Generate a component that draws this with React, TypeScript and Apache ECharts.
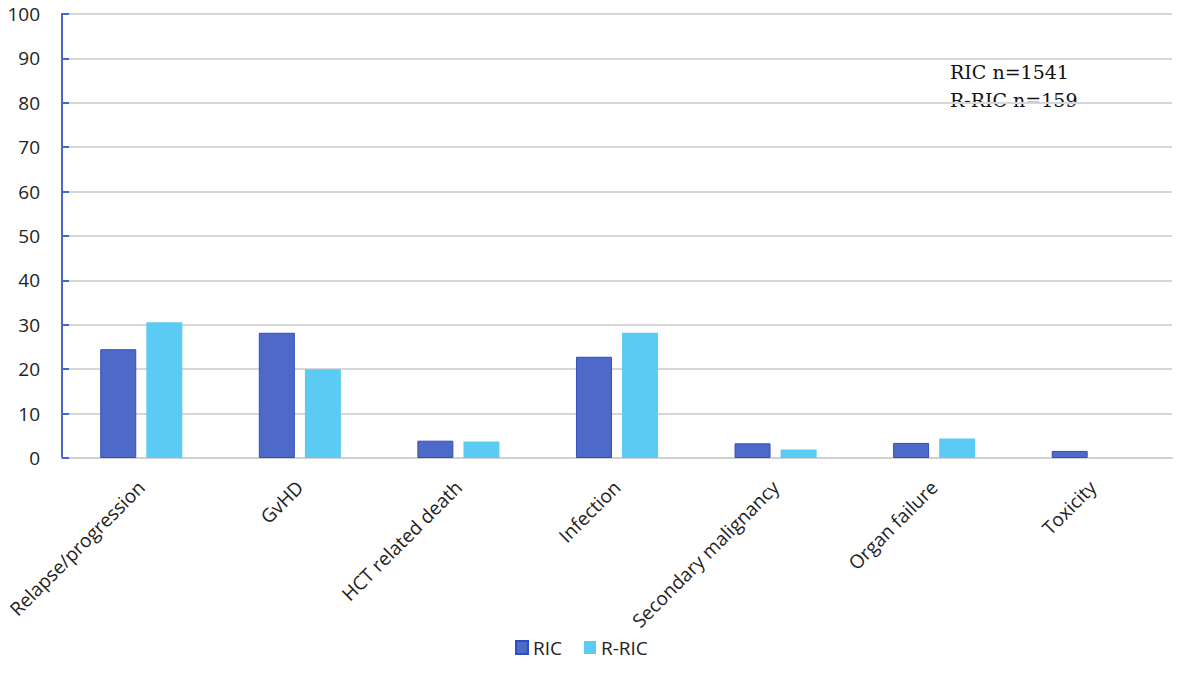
import React, { useEffect, useRef } from "react";
import * as echarts from "echarts";

const categories = [
  "Relapse/progression",
  "GvHD",
  "HCT related death",
  "Infection",
  "Secondary malignancy",
  "Organ failure",
  "Toxicity",
];
const ricValues = [24.5, 28.2, 3.9, 22.8, 3.3, 3.4, 1.6];
const rricValues = [30.6, 20.0, 3.7, 28.2, 1.9, 4.4, 0];
const seriesNames = ["RIC", "R-RIC"];
const noteLines = ["RIC n=1541", "R-RIC n=159"];

export default function App() {
  const ref = useRef<HTMLDivElement>(null);
  useEffect(() => {
    if (!ref.current) return;
    const chart = echarts.init(ref.current, null, { renderer: "svg" });
    const sans = "'Open Sans', 'Noto Sans', sans-serif";
    chart.setOption({
      animation: false,
      backgroundColor: "#ffffff",
      grid: { left: 62, right: 9, top: 14, bottom: 223, containLabel: false },
      legend: {
        data: seriesNames,
        top: 633,
        left: 510,
        itemWidth: 12,
        itemHeight: 13,
        itemGap: 22,
        icon: "rect",
        textStyle: { fontFamily: sans, fontSize: 19, color: "#222" },
      },
      xAxis: {
        type: "category",
        data: categories,
        axisLine: { show: true, lineStyle: { color: "#d0d0d0", width: 2 } },
        axisTick: { show: false },
        axisLabel: {
          rotate: 45,
          margin: 26,
          interval: 0,
          fontFamily: sans,
          fontSize: 19,
          color: "#222",
        },
      },
      yAxis: {
        type: "value",
        min: 0,
        max: 100,
        interval: 10,
        axisLine: { show: true, lineStyle: { color: "#4a66c8", width: 2 } },
        axisTick: { show: true, inside: true, length: 7, lineStyle: { color: "#4a66c8", width: 2 } },
        axisLabel: { fontFamily: sans, fontSize: 19, color: "#222", margin: 22 },
        splitLine: { show: true, lineStyle: { color: "#d6d6d6", width: 2 } },
      },
      series: [
        {
          name: seriesNames[0],
          type: "bar",
          data: ricValues,
          barWidth: 36,
          barGap: "28%",
          itemStyle: { color: "#4f69c9", borderColor: "#2f4fc0", borderWidth: 1 },
        },
        {
          name: seriesNames[1],
          type: "bar",
          data: rricValues,
          barWidth: 36,
          itemStyle: { color: "#5ccbf3" },
        },
      ],
      graphic: [
        {
          type: "text",
          left: 950,
          top: 58,
          style: {
            text: noteLines.join("\n"),
            fontFamily: "'DejaVu Serif', 'Liberation Serif', serif",
            fontSize: 19,
            lineHeight: 28,
            fill: "#111",
          },
        },
      ],
    });
    return () => chart.dispose();
  }, []);
  return (
    <div
      ref={ref}
      style={{ position: "fixed", left: 0, top: 0, width: 1181, height: 681, background: "#fff" }}
    />
  );
}
